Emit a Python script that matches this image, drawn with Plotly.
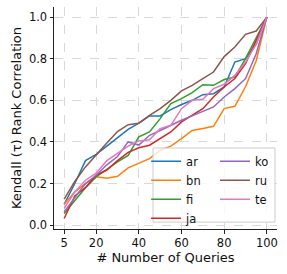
import plotly.graph_objects as go

num_queries = [5, 10, 15, 20, 25, 30, 35, 40, 45, 50, 55, 60, 65, 70, 75, 80, 85, 90, 95, 100]

ar = [0.10, 0.20, 0.31, 0.34, 0.38, 0.42, 0.46, 0.49, 0.525, 0.525, 0.555, 0.58, 0.60, 0.627, 0.632, 0.664, 0.784, 0.80, 0.87, 1.0]
bn = [0.10, 0.16, 0.20, 0.232, 0.225, 0.235, 0.275, 0.296, 0.32, 0.36, 0.38, 0.416, 0.455, 0.465, 0.475, 0.56, 0.571, 0.665, 0.79, 1.0]
fi = [0.056, 0.12, 0.18, 0.232, 0.27, 0.304, 0.335, 0.424, 0.448, 0.512, 0.584, 0.608, 0.637, 0.675, 0.672, 0.70, 0.712, 0.80, 0.90, 1.0]
ja = [0.032, 0.14, 0.18, 0.24, 0.265, 0.31, 0.35, 0.372, 0.384, 0.416, 0.448, 0.496, 0.528, 0.56, 0.616, 0.664, 0.705, 0.776, 0.888, 1.0]
ko = [0.064, 0.13, 0.20, 0.24, 0.29, 0.33, 0.40, 0.385, 0.432, 0.455, 0.48, 0.504, 0.525, 0.545, 0.568, 0.616, 0.656, 0.704, 0.824, 1.0]
ru = [0.125, 0.21, 0.28, 0.34, 0.395, 0.45, 0.483, 0.49, 0.528, 0.56, 0.60, 0.645, 0.672, 0.704, 0.736, 0.81, 0.856, 0.917, 0.933, 1.0]
te = [0.08, 0.16, 0.216, 0.25, 0.31, 0.345, 0.38, 0.405, 0.41, 0.464, 0.48, 0.56, 0.60, 0.605, 0.656, 0.677, 0.72, 0.784, 0.87, 1.0]

languages = ["ar", "bn", "fi", "ja", "ko", "ru", "te"]
series = [ar, bn, fi, ja, ko, ru, te]
colors = ["#1f77b4", "#ff7f0e", "#2ca02c", "#d62728", "#9467bd", "#8c564b", "#e377c2"]

x_ticks = [5, 20, 40, 60, 80, 100]
y_ticks = [0.0, 0.2, 0.4, 0.6, 0.8, 1.0]

FONT = "DejaVu Sans"

fig = go.Figure()
for i, (name, vals, col) in enumerate(zip(languages, series, colors)):
    fig.add_trace(go.Scatter(
        x=num_queries, y=vals, mode="lines", name=name,
        line=dict(color=col, width=1.5),
        legend="legend" if i < 4 else "legend2",
    ))

axis_common = dict(
    showline=True, linecolor="#222", linewidth=1, mirror=False,
    ticks="outside", ticklen=3.5, tickwidth=1, tickcolor="#222",
    showgrid=True, gridcolor="#d9d9d9", griddash="dash", gridwidth=0.8,
    zeroline=False, tickfont=dict(family=FONT, size=11.5, color="#111"),
)

fig.update_layout(
    width=287, height=274,
    margin=dict(l=54, r=10, t=7, b=45),
    plot_bgcolor="white", paper_bgcolor="white",
    font=dict(family=FONT, color="#111"),
    xaxis=dict(range=[0.25, 104.75], tickvals=x_ticks,
               title=dict(text="# Number of Queries", font=dict(family=FONT, size=13), standoff=2),
               **axis_common),
    yaxis=dict(range=[-0.0185, 1.0485], tickvals=y_ticks, tickformat=".1f",
               title=dict(text="Kendall (τ) Rank Correlation", font=dict(family=FONT, size=13), standoff=4),
               **axis_common),
    legend=dict(x=0.413, y=0.37, xanchor="left", yanchor="top",
                bgcolor="rgba(0,0,0,0)", font=dict(family=FONT, size=11.5),
                itemwidth=30, tracegroupgap=0),
    legend2=dict(x=0.722, y=0.37, xanchor="left", yanchor="top",
                 bgcolor="rgba(0,0,0,0)", font=dict(family=FONT, size=11.5),
                 itemwidth=30, tracegroupgap=0),
    shapes=[dict(type="rect", xref="paper", yref="paper",
                 x0=0.444, x1=0.991, y0=0.031, y1=0.365,
                 line=dict(color="#cccccc", width=1),
                 fillcolor="rgba(255,255,255,0.8)", layer="above")],
    showlegend=True,
)

fig.write_html("out.html", config={"displayModeBar": False},
               post_script=["document.body.style.margin='0';"])
